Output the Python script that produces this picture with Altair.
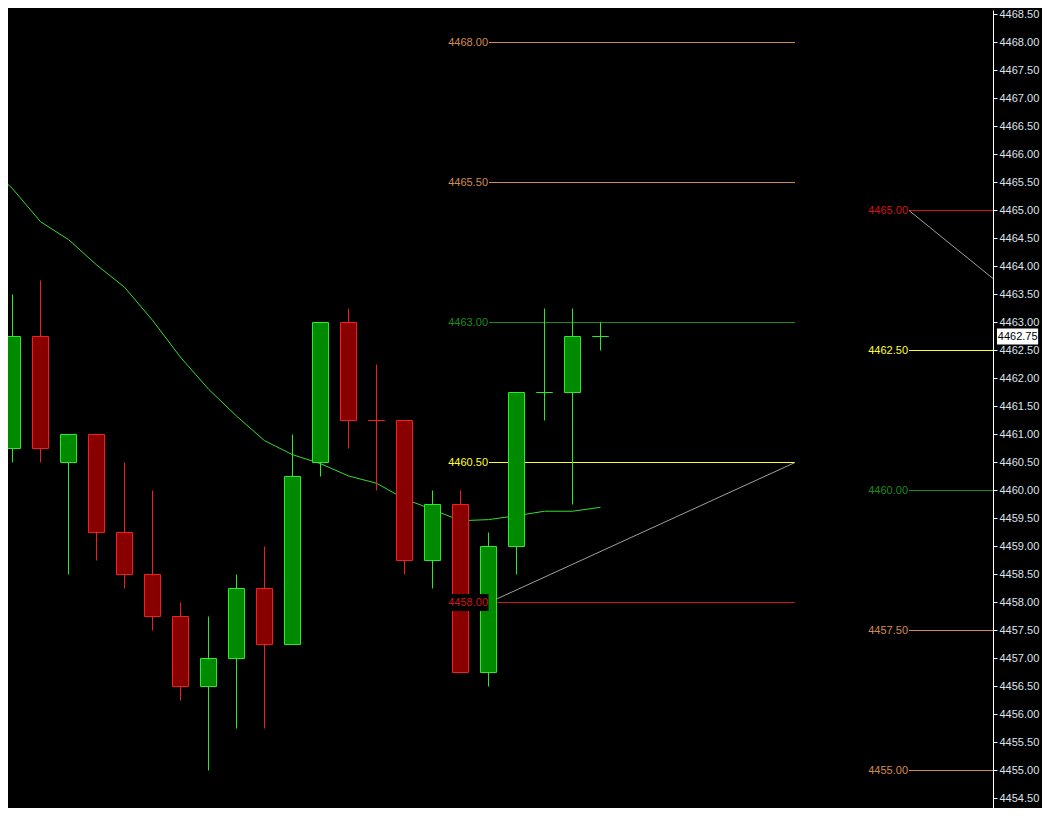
import altair as alt
import pandas as pd

# ---- candle data ----
opens = [4460.75, 4462.75, 4460.50, 4461.00, 4459.25, 4458.50, 4457.75, 4456.50, 4457.00, 4458.25, 4457.25,
         4460.50, 4463.00, 4461.25, 4461.25, 4458.75, 4459.75, 4456.75, 4459.00, 4461.75, 4461.75, 4462.75]
highs = [4463.50, 4463.75, 4461.00, 4461.00, 4460.50, 4460.00, 4458.00, 4457.75, 4458.50, 4459.00, 4461.00,
         4463.00, 4463.25, 4462.25, 4461.25, 4460.00, 4460.00, 4459.25, 4461.75, 4463.25, 4463.25, 4463.00]
lows = [4460.50, 4460.50, 4458.50, 4458.75, 4458.25, 4457.50, 4456.25, 4455.00, 4455.75, 4455.75, 4457.25,
        4460.25, 4460.75, 4460.00, 4458.50, 4458.25, 4456.75, 4456.50, 4458.50, 4461.25, 4459.75, 4462.50]
closes = [4462.75, 4460.75, 4461.00, 4459.25, 4458.50, 4457.75, 4456.50, 4457.00, 4458.25, 4457.25, 4460.25,
          4463.00, 4461.25, 4461.25, 4458.75, 4459.75, 4456.75, 4459.00, 4461.75, 4461.75, 4462.75, 4462.75]
directions = ["up", "down", "up", "down", "down", "down", "down", "up", "up", "down", "up",
              "up", "down", "down", "down", "up", "down", "up", "up", "up", "up", "up"]
# moving average: value of the bar before the first visible one, then one per bar
ma_before = 4465.85
moving_avg = [4465.39, 4464.80, 4464.48, 4464.03, 4463.63, 4463.04, 4462.38, 4461.81, 4461.33, 4460.89, 4460.64,
              4460.48, 4460.26, 4460.13, 4459.85, 4459.66, 4459.46, 4459.48, 4459.55, 4459.63, 4459.63, 4459.70]

# ---- level lines ----
left_levels = [4468.00, 4465.50, 4463.00, 4460.50, 4458.00]
left_colors = ["#d08c55", "#d08c55", "#1e8a1e", "#ffff33", "#d01515"]
right_levels = [4465.00, 4462.50, 4460.00, 4457.50, 4455.00]
right_colors = ["#d01515", "#ffff33", "#1e8a1e", "#d08c55", "#d08c55"]

# diagonal grey lines (start/end prices)
diag_prices = [[4458.00, 4460.50], [4465.00, 4463.785]]

# axis tick labels
tick_values = [4454.5 + 0.5 * k for k in range(29)]
last_price = 4462.75

# ---- styles ----
UP_LINE, DOWN_LINE = "#2ee82e", "#f02020"
UP_FILL, DOWN_FILL = "#008a00", "#880000"

# ---- layout constants (in bar-index units) ----
LEFT_START, LEFT_END = 17.018, 27.946
RIGHT_START, RIGHT_END = 32.018, 35.018
HALF_BODY = 8 / 28

n = len(opens)
candles = pd.DataFrame({
    "i": list(range(n)), "open": opens, "high": highs, "low": lows, "close": closes,
    "dir": directions,
})
ma_df = pd.DataFrame({"i": list(range(-1, n)), "ma": [ma_before] + moving_avg})

levels = pd.DataFrame({
    "price": left_levels + right_levels,
    "color": left_colors + right_colors,
    "x1": [LEFT_START] * 5 + [RIGHT_START] * 5,
    "x2": [LEFT_END] * 5 + [RIGHT_END] * 5,
})
levels["label"] = levels["price"].map(lambda v: f"{v:.2f}")

diag = pd.DataFrame({
    "g": [0, 0, 1, 1],
    "x": [LEFT_START, LEFT_END, RIGHT_START, RIGHT_END],
    "price": [diag_prices[0][0], diag_prices[0][1], diag_prices[1][0], diag_prices[1][1]],
})

PLOT_W, PLOT_H = 985, 798
x0 = -4.5 / 28
xs = alt.Scale(domain=[x0, x0 + PLOT_W / 28], nice=False, zero=False)
ytop = 4468 + 32.5 / 56
ys = alt.Scale(domain=[ytop - PLOT_H / 56, ytop], nice=False, zero=False)

y_axis = alt.Axis(
    orient="right", values=tick_values, format=".2f", grid=False,
    domainColor="#ffffff", tickColor="#ffffff", tickSize=4, labelColor="#dce4ee",
    labelFont="Liberation Sans", labelFontSize=11, labelPadding=2, title=None,
    domainWidth=1, tickWidth=1, labelOverlap=False, labelFlush=False)

X = lambda f: alt.X(f, type="quantitative", scale=xs, axis=None)
Y = lambda f: alt.Y(f, type="quantitative", scale=ys, axis=y_axis)

base = alt.Chart(candles).transform_calculate(
    line_c=f"datum.dir == 'up' ? '{UP_LINE}' : '{DOWN_LINE}'",
    fill_c=f"datum.dir == 'up' ? '{UP_FILL}' : '{DOWN_FILL}'",
    xl=f"datum.i - {HALF_BODY}", xr=f"datum.i + {HALF_BODY}",
)

level_rules = alt.Chart(levels).mark_rule(strokeWidth=1).encode(
    x=X("x1"), x2="x2", y=Y("price"), stroke=alt.Stroke("color:N", scale=None))

# black box behind the 4458.00 label
box458 = alt.Chart(pd.DataFrame({"x1": [15.48], "x2": [17.0], "y1": [4457.85], "y2": [4458.15]})).mark_rect(
    color="#000000").encode(x=X("x1"), x2="x2", y=Y("y1"), y2="y2")

level_text = alt.Chart(levels).mark_text(
    align="right", baseline="middle", dx=-1, font="Liberation Sans", fontSize=11).encode(
    x=X("x1"), y=Y("price"), text="label:N", fill=alt.Fill("color:N", scale=None))

diag_lines = alt.Chart(diag).mark_line(color="#a0a0a0", strokeWidth=1).encode(
    x=X("x"), y=Y("price"), detail="g:N")

wicks = base.mark_rule(strokeWidth=1).encode(
    x=X("i"), y=Y("low"), y2="high", stroke=alt.Stroke("line_c:N", scale=None))

bodies = base.mark_rect(strokeWidth=1).encode(
    x=X("xl"), x2="xr", y=Y("open"), y2="close",
    fill=alt.Fill("fill_c:N", scale=None), stroke=alt.Stroke("line_c:N", scale=None))

ma_line = alt.Chart(ma_df).mark_line(color="#33dd33", strokeWidth=1, clip=True).encode(
    x=X("i"), y=Y("ma"))

price_df = pd.DataFrame({"x1": [35.16], "x2": [36.63], "y1": [4462.607], "y2": [4462.893],
                         "xt": [35.9], "p": [last_price], "t": [f"{last_price:.2f}"]})
price_box = alt.Chart(price_df).mark_rect(color="#ffffff").encode(
    x=X("x1"), x2="x2", y=Y("y1"), y2="y2")
price_text = alt.Chart(price_df).mark_text(
    color="#000000", align="center", baseline="middle", font="Liberation Sans", fontSize=11).encode(
    x=X("xt"), y=Y("p"), text="t:N")

chart = alt.layer(
    level_rules, diag_lines, ma_line, wicks, bodies, box458, level_text, price_box, price_text
).properties(
    width=PLOT_W, height=PLOT_H, background="#000000", autosize="none",
    padding={"left": 0, "top": 2, "right": 49, "bottom": 0},
).configure_view(strokeWidth=0)

chart.save("out.html", embed_options={"renderer": "svg", "actions": False})
